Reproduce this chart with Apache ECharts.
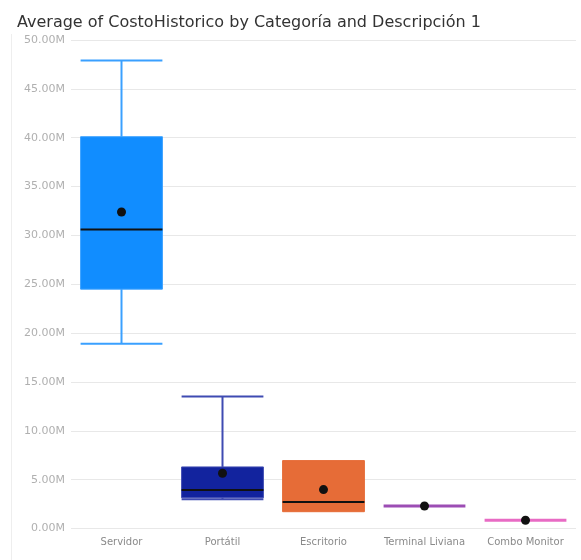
<!DOCTYPE html>
<html>
<head>
<meta charset="utf-8">
<script src="https://cdn.jsdelivr.net/npm/echarts@6/dist/echarts.min.js"></script>
<style>
html,body{margin:0;padding:0;background:#fff;}
#chart{width:581px;height:560px;}
</style>
</head>
<body>
<div id="chart"></div>
<script>
// Data (values in millions)
const categories = ['Servidor', 'Portátil', 'Escritorio', 'Terminal Liviana', 'Combo Monitor'];
const minVals    = [18.9, 3.0, 1.72, 2.3, 0.84];
const q1Vals     = [24.5, 3.15, 1.72, 2.3, 0.84];
const medianVals = [30.6, 3.95, 2.7, 2.3, 0.84];
const q3Vals     = [40.1, 6.3, 6.95, 2.3, 0.84];
const maxVals    = [47.9, 13.5, 6.95, 2.3, 0.84];
const meanVals   = [32.4, 5.65, 3.98, 2.3, 0.84];
const yTicks     = [0, 5, 10, 15, 20, 25, 30, 35, 40, 45, 50];

// Styles
const fillColors    = ['#118DFF', '#12239E', '#E66C37', '#9C4DB4', '#E86BC4'];
const whiskerColors = ['#3AA0FF', '#3F4BB2', '#E66C37', '#9C4DB4', '#E86BC4'];

const seriesData = categories.map((c, i) => [i, minVals[i], q1Vals[i], medianVals[i], q3Vals[i], maxVals[i], meanVals[i]]);

function renderItem(params, api) {
  const idx = api.value(0);
  const band = api.size([1, 0])[0];
  const w = band * 0.81;
  const cx = api.coord([idx, 0])[0];
  const y = v => api.coord([idx, v])[1];
  const yMin = y(api.value(1)), yQ1 = y(api.value(2)), yMed = y(api.value(3)),
        yQ3 = y(api.value(4)), yMax = y(api.value(5)), yMean = y(api.value(6));
  const fill = fillColors[idx], wc = whiskerColors[idx];
  const x0 = cx - w / 2, x1 = cx + w / 2;
  const children = [];
  const flat = Math.abs(yQ1 - yQ3) < 1;
  if (!flat) {
    if (Math.abs(yMax - yQ3) > 0.5) {
      children.push({type: 'line', shape: {x1: cx, y1: yMax, x2: cx, y2: yQ3}, style: {stroke: wc, lineWidth: 2}});
      children.push({type: 'line', shape: {x1: x0, y1: yMax, x2: x1, y2: yMax}, style: {stroke: wc, lineWidth: 2}});
    }
    if (Math.abs(yMin - yQ1) > 0.5) {
      children.push({type: 'line', shape: {x1: cx, y1: yQ1, x2: cx, y2: yMin}, style: {stroke: wc, lineWidth: 2}});
      children.push({type: 'line', shape: {x1: x0, y1: yMin, x2: x1, y2: yMin}, style: {stroke: wc, lineWidth: 2}});
    }
    children.push({type: 'rect', shape: {x: x0, y: yQ3, width: w, height: yQ1 - yQ3},
      style: {fill: fill, stroke: wc, lineWidth: 1}});
    children.push({type: 'line', shape: {x1: x0, y1: yMed, x2: x1, y2: yMed}, style: {stroke: '#111', lineWidth: 2}});
  } else {
    children.push({type: 'line', shape: {x1: x0, y1: yMed, x2: x1, y2: yMed}, style: {stroke: fill, lineWidth: 3}});
  }
  children.push({type: 'circle', shape: {cx: cx, cy: yMean, r: 4.5}, style: {fill: '#111'}});
  return {type: 'group', children: children};
}

const chart = echarts.init(document.getElementById('chart'), null, {renderer: 'canvas'});
chart.setOption({
  animation: false,
  backgroundColor: '#fff',
  title: {
    text: 'Average of CostoHistorico by Categoría and Descripción 1',
    left: 12, top: 10,
    textStyle: {fontFamily: 'DejaVu Sans', fontSize: 16, fontWeight: 'normal', color: '#333'}
  },
  graphic: [{type: 'line', shape: {x1: 11.5, y1: 34, x2: 11.5, y2: 560}, style: {stroke: '#eeeeee', lineWidth: 1}}],
  grid: {left: 71, right: 5, top: 40, bottom: 31.5, containLabel: false},
  xAxis: {
    type: 'category',
    data: categories,
    axisLine: {show: false},
    axisTick: {show: false},
    axisLabel: {color: '#8a8a8a', fontSize: 10, fontFamily: 'DejaVu Sans', margin: 9, interval: 0}
  },
  yAxis: {
    type: 'value',
    min: yTicks[0], max: yTicks[yTicks.length - 1], interval: yTicks[1] - yTicks[0],
    axisLine: {show: false},
    axisTick: {show: false},
    splitLine: {lineStyle: {color: '#e8e8e8', width: 1}},
    axisLabel: {color: '#b0b0b0', fontSize: 11, fontFamily: 'DejaVu Sans', margin: 6,
      formatter: v => v.toFixed(2) + 'M'}
  },
  series: [{
    type: 'custom',
    renderItem: renderItem,
    encode: {x: 0, y: [1, 5]},
    data: seriesData
  }]
});
</script>
</body>
</html>
